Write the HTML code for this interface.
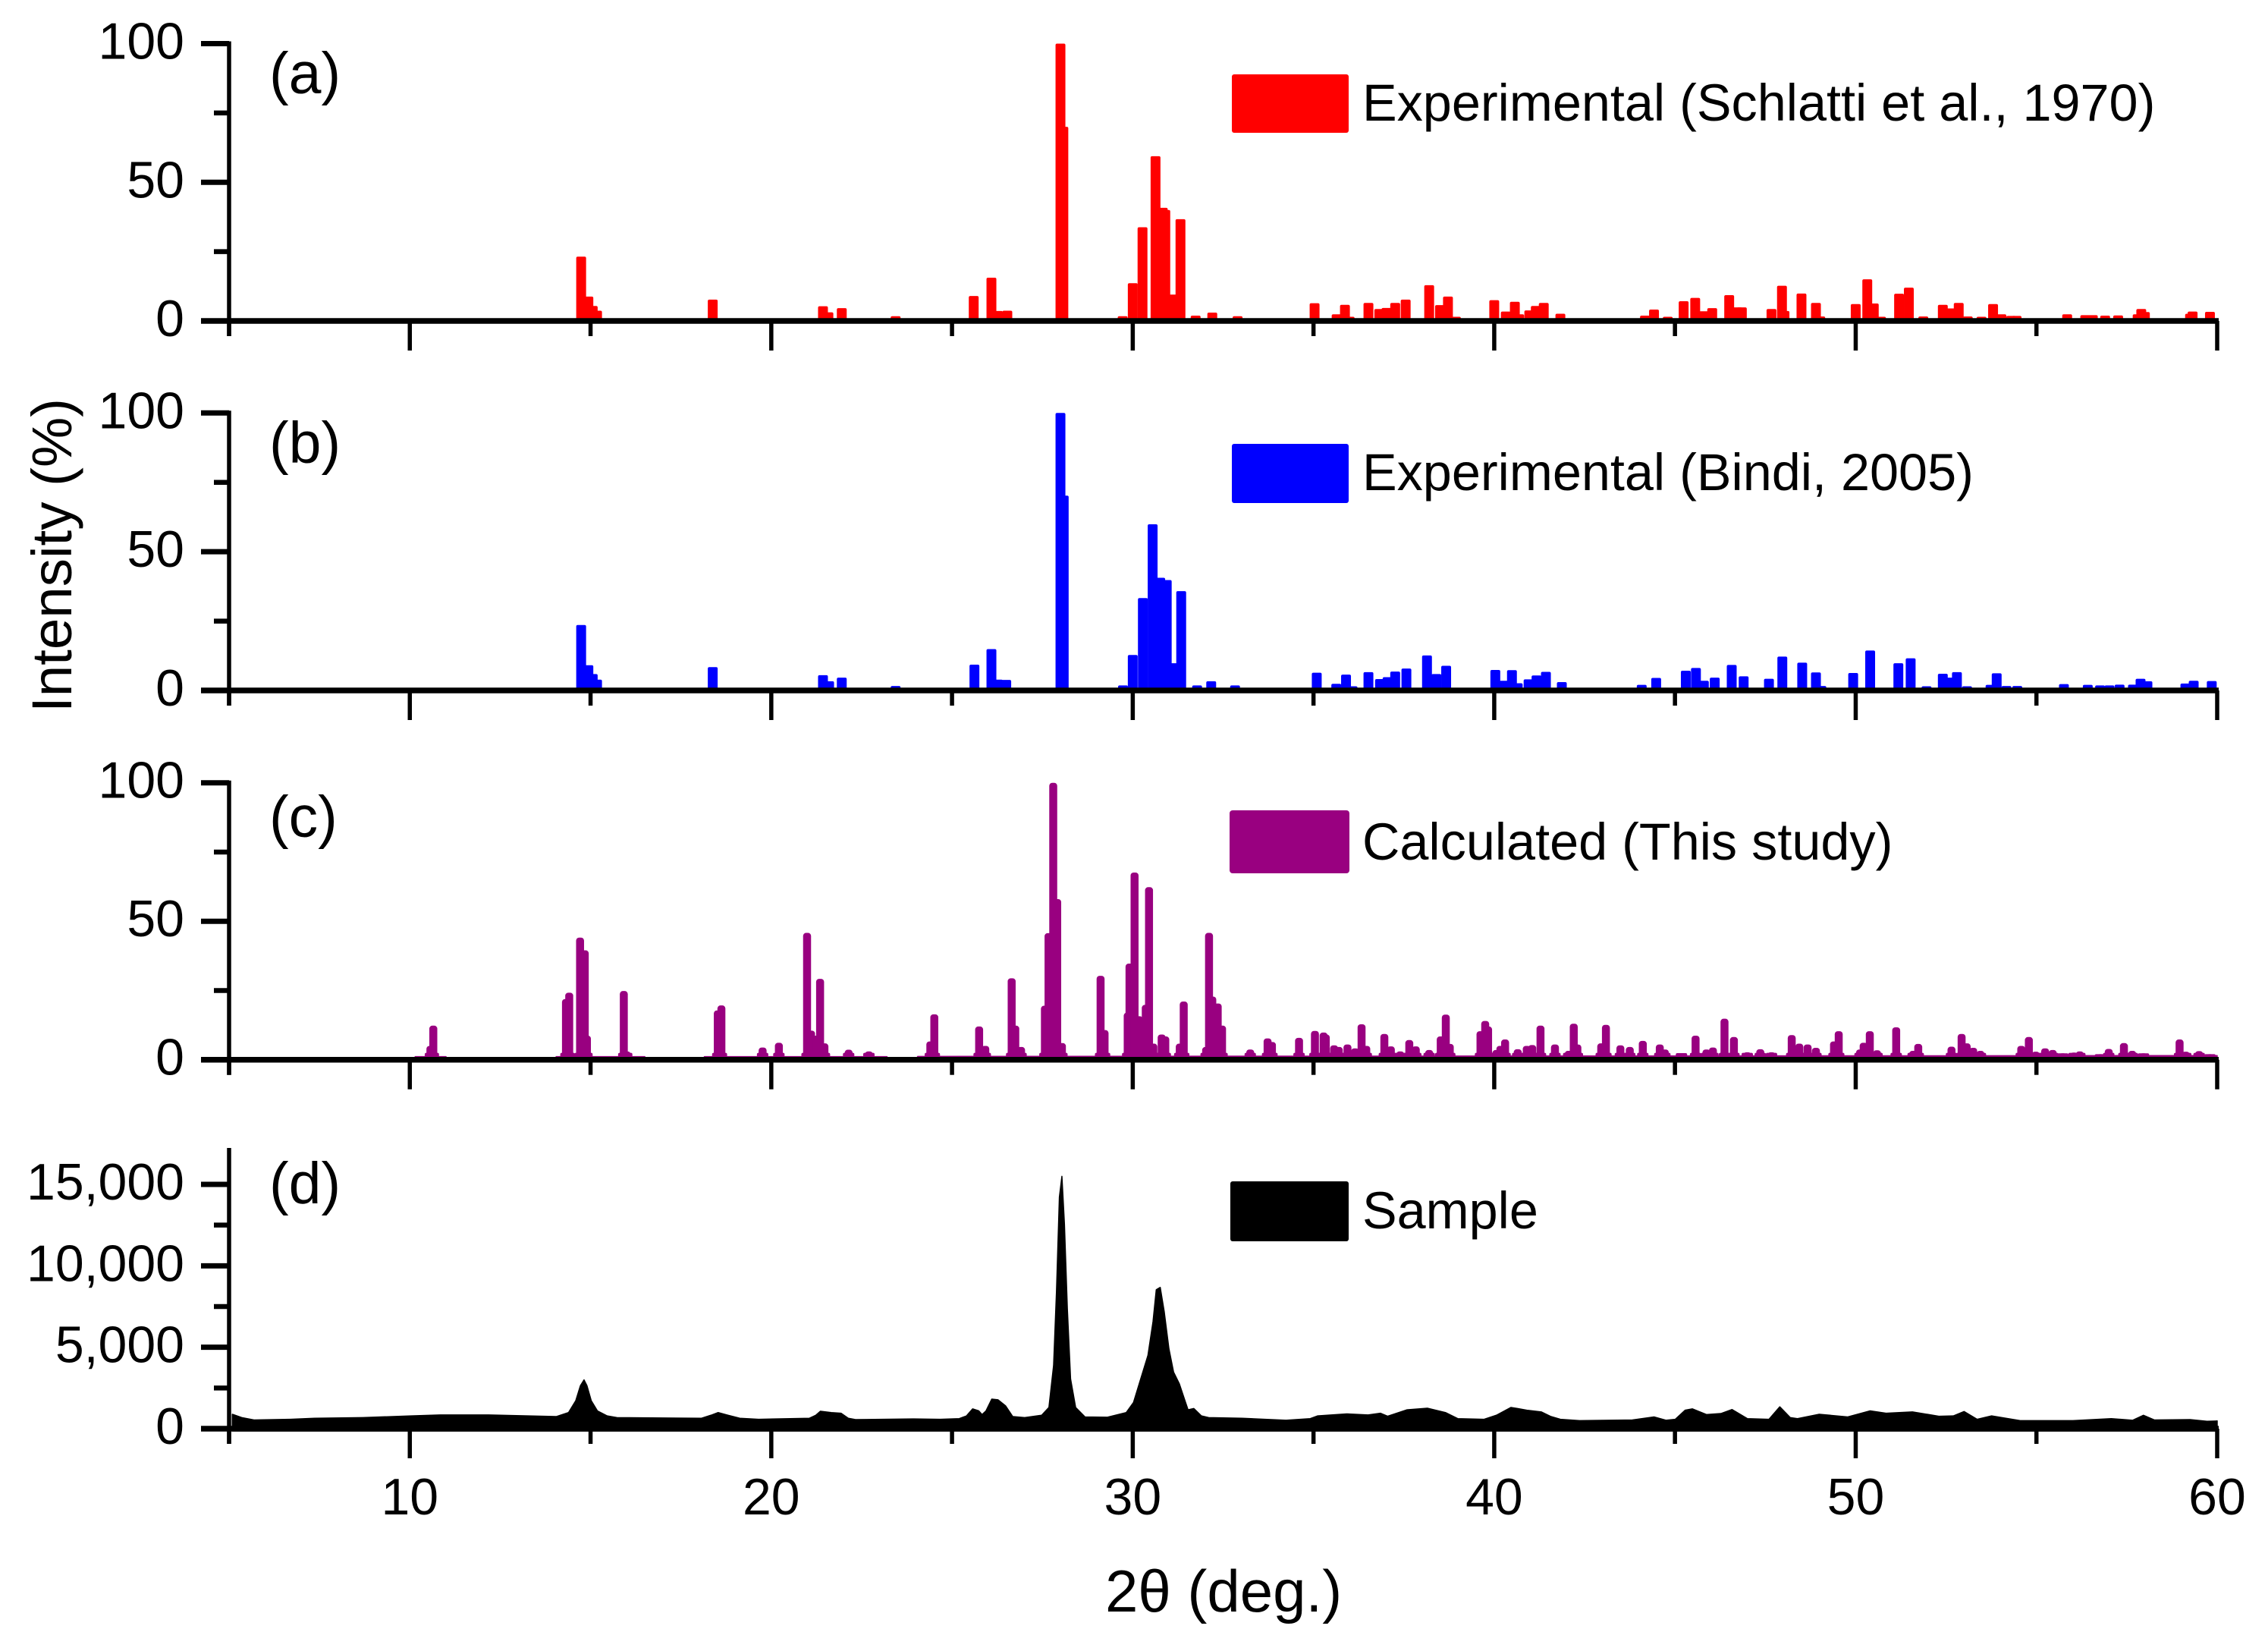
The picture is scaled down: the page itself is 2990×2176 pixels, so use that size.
<!DOCTYPE html>
<html lang="en">
<head>
<meta charset="utf-8">
<title>XRD patterns: experimental, calculated and sample</title>
<style>
html,body{margin:0;padding:0;background:#fff;}
#chart{display:block;width:2990px;height:2176px;font-family:"Liberation Sans",Arial,sans-serif;fill:#000;}
</style>
</head>
<body>
<svg id="chart" xmlns="http://www.w3.org/2000/svg" width="2990" height="2176" viewBox="0 0 2990 2176">
  <rect x="0" y="0" width="2990" height="2176" fill="#fff"/>
  <g id="layer-marks"></g>
  <g id="layer-axes"></g>

  <text x="355" y="123" font-size="77">(a)</text>
  <text x="355" y="610" font-size="77">(b)</text>
  <text x="355" y="1103" font-size="77">(c)</text>
  <text x="355" y="1586" font-size="77">(d)</text>

  <rect x="1624" y="98" width="154" height="77" rx="3" fill="#ff0000"/>
  <text x="1796" y="159" font-size="68.4">Experimental (Schlatti et al., 1970)</text>
  <rect x="1624" y="585" width="154" height="78" rx="3" fill="#0000ff"/>
  <text x="1796" y="646" font-size="68.4">Experimental (Bindi, 2005)</text>
  <rect x="1621" y="1068" width="158" height="83" rx="4" fill="#990080"/>
  <text x="1796" y="1133" font-size="68.4">Calculated (This study)</text>
  <rect x="1622" y="1557" width="156" height="79" rx="3" fill="#000"/>
  <text x="1796" y="1619" font-size="68.4">Sample</text>

  <text transform="translate(94 939) rotate(-90)" font-size="74.5">Intensity (%)</text>
  <text x="1457" y="2124" font-size="78">2θ (deg.)</text>
</svg>

<script>
/* Panel (a): Schlatti et al., 1970 stick pattern */
var schlattiAngles = [14.74,14.94,15.06,15.18,18.38,21.43,21.58,21.95,23.44,25.6,26.09,26.27,26.33,26.53,28,28.08,29.72,30,30.27,30.63,30.83,30.9,31.14,31.32,31.74,32.2,32.9,35.03,35.64,35.87,36,36.52,36.82,37.02,37.26,37.55,38.2,38.5,38.72,38.94,40,40.32,40.57,40.69,40.97,41.15,41.37,41.83,44.17,44.42,44.8,45.24,45.56,45.8,46.03,46.5,46.72,46.85,47.67,47.96,48.03,48.5,48.9,49.02,50,50.32,50.5,50.7,51.2,51.47,51.87,52.41,52.63,52.85,53.1,53.48,53.8,54.03,54.3,54.45,55.85,56.35,56.56,56.9,57.26,57.8,57.9,58,59.25,59.32,59.8];
var schlattiIntensity = [23.2,8.8,5.4,3.7,7.7,5.3,3.1,4.6,1.7,9,15.6,3.6,2.6,3.7,100,70,1.7,13.6,33.8,59.4,40.8,40,9.5,36.7,1.9,3,1.7,6.4,2.4,5.8,1.5,6.5,4.3,4.7,6.5,7.7,12.9,5.7,8.8,1.5,7.5,3.4,6.9,2.4,3.8,5.4,6.5,2.6,1.9,4.1,1.5,7.1,8.3,3.5,4.6,9.3,4.9,4.9,4.3,12.7,3.6,9.9,6.5,1.6,6.1,15,6.3,1.5,9.8,12,1.6,5.8,4.5,6.5,1.6,1.5,6.1,2.4,1.8,1.8,2.4,2.1,2.1,1.9,2,2.4,4.3,3.2,2.6,3.4,3.3];

/* Panel (b): Bindi, 2005 stick pattern */
var bindiAngles = [14.74,14.94,15.06,15.18,18.38,21.43,21.6,21.95,23.44,25.62,26.09,26.27,26.5,28,28.09,29.73,30,30.28,30.55,30.76,30.94,31.14,31.34,31.78,32.17,32.83,35.09,35.63,35.9,36.08,36.52,36.84,37.05,37.26,37.57,38.14,38.4,38.67,40.03,40.27,40.49,40.65,40.95,41.17,41.43,41.87,44.08,44.48,45.3,45.58,45.8,46.1,46.57,46.9,47.6,47.97,48.52,48.9,49.05,49.93,50.4,51.18,51.52,51.96,52.41,52.62,52.8,53.08,53.73,53.9,54.17,54.47,55.76,56.42,56.76,57.02,57.3,57.67,57.88,58.07,59.12,59.35,59.85];
var bindiIntensity = [23.6,9.1,5.9,3.9,8.4,5.5,3.3,4.6,1.6,9.3,14.9,3.9,3.8,100,70.2,1.8,12.8,33.3,59.9,40.6,39.8,9.8,35.8,1.8,3.3,1.8,6.4,2.4,5.7,1.5,6.6,4.1,4.8,6.8,7.9,12.6,5.9,8.9,7.4,3.5,7.3,2.6,4,5.4,6.7,3,2,4.5,7.1,8.1,3.5,4.6,9.2,5.1,4.2,12.2,10,6.5,1.6,6.3,14.4,9.8,11.6,1.5,6,4.6,6.6,1.5,2,6.2,1.6,1.6,2.3,2,1.8,1.8,2.1,2.1,4.2,3.3,2.5,3.5,3.4];

/* Panel (c): calculated pattern peaks */
var calculatedAngles = [10.57,10.65,14.32,14.41,14.71,14.84,14.9,15.92,16,18.52,18.62,19.76,20.21,20.99,21.1,21.25,21.35,21.47,22.14,22.7,24.4,24.51,25.75,25.92,26.65,26.75,26.91,27.57,27.67,27.8,27.91,28.04,29.11,29.22,29.86,29.91,30.05,30.17,30.26,30.36,30.45,30.57,30.8,30.9,31.3,31.41,32.03,32.11,32.2,32.35,32.47,33.25,33.73,33.85,34.6,35.04,35.28,35.34,35.57,35.7,35.94,36.15,36.33,36.46,36.96,37.14,37.4,37.65,37.83,38.2,38.52,38.66,38.77,39.62,39.75,39.83,40.06,40.17,40.3,40.65,40.9,41.05,41.28,41.68,42.06,42.2,42.3,42.96,43.09,43.49,43.75,44.11,44.58,44.72,45.18,45.57,45.87,46.05,46.37,46.63,47,47.36,47.67,48.23,48.44,48.67,48.9,49.4,49.53,50.12,50.22,50.39,50.59,51.12,51.59,51.73,52.65,52.93,53.07,53.25,53.45,54.58,54.79,54.98,55.24,55.45,55.73,56.04,56.2,56.77,57,57.42,57.65,57.96,58.96,59.13,59.5,59.8];
var calculatedIntensity = [5,12.3,21.9,24.2,44.1,39.5,8.7,24.8,3,17.8,19.6,4.4,6.1,45.8,10.5,8.7,29.2,5.9,3.6,3,6.6,16.4,12,5,29.4,12.3,4.6,19.5,45.7,100,58,6,30.3,10.7,17,34.7,67.6,15.7,10.3,19.8,62.3,5.8,9.1,8.4,5.8,21,4.6,45.8,22.8,20.3,12.3,3.7,7.7,6.4,7.9,10.4,9.8,9.1,5.2,4.6,5.5,4.1,12.8,5,9.3,4.8,3,7.1,4.8,3.5,8.4,16.3,5.7,10.3,14,12,3.5,5,7.3,3.8,5,5.3,12.3,5.5,3.2,13,5.5,5.9,12.6,5.2,4.6,6.8,5.5,3.7,2.4,8.7,3.7,4.4,14.8,8.2,2.7,3.8,2.7,8.9,5.8,5.5,4.3,6.6,10.3,3.7,6.1,10.3,3.4,11.7,3.2,5.7,4.7,9.3,5.9,4.3,3.2,5,8.2,2.9,4.1,3.5,2.3,2.6,3,2,3.9,6,3.2,2.3,7.3,2.9,3.1,2];
/* Low continuum beneath the calculated peaks */
var continuumAngles = [10.1,10.15,11,11.05,14,14.05,16.5,16.55,18.1,18.15,19,23.2,23.25,24,24.05,60];
var continuumLevels = [0,1.1,1.1,0,0,1.1,1.1,0,0,1.1,1.1,1.1,0,0,1.2,1.5];

/* Panel (d): measured sample profile */
var sampleAngles = [5.09,5.35,5.69,6.69,7.36,8.7,10.04,10.84,12.18,14.05,14.39,14.59,14.72,14.82,14.9,15.02,15.19,15.46,15.73,18.07,18.33,18.53,18.8,19.13,19.65,21.05,21.23,21.36,21.66,21.93,22.13,22.33,23.93,24.67,25.2,25.4,25.57,25.74,25.83,25.94,26.1,26.27,26.48,26.68,27.01,27.48,27.68,27.81,27.89,27.97,28.04,28.11,28.19,28.28,28.42,28.68,29.29,29.82,30.02,30.22,30.42,30.56,30.65,30.76,30.87,31,31.13,31.29,31.43,31.53,31.69,31.9,32.1,33.03,34.24,34.91,35.11,35.92,36.51,36.85,37.05,37.58,38.15,38.65,38.99,39.72,40.06,40.46,40.64,40.9,41.3,41.57,41.83,42.36,43.82,44.42,44.75,45.01,45.28,45.48,45.87,46.27,46.58,47,47.6,47.9,48.19,48.39,48.99,49.78,50.4,50.84,51.57,52.3,52.7,53,53.36,53.76,54.55,56.01,57.07,57.66,57.96,58.26,59.25,59.72,60];
var sampleCounts = [888,682,537,578,640,682,785,847,847,744,992,1715,2645,2996,2645,1715,1095,785,682,640,826,992,826,640,578,640,826,1074,992,950,640,558,600,578,620,785,1219,1095,868,1095,1818,1777,1405,744,682,826,1302,3884,8429,14214,15495,12560,7396,3058,1302,723,702,992,1611,3058,4504,6570,8532,8677,7190,4917,3471,2748,1818,1157,1240,785,682,640,517,620,785,909,847,950,764,1157,1260,992,620,578,826,1302,1240,1136,1033,744,578,496,537,723,517,578,1136,1219,868,930,1178,620,578,1343,682,620,888,723,1095,950,1033,764,785,1054,578,785,496,496,620,517,826,537,558,455,475];

/* Tick values */
var xMajorTicks = [10,20,30,40,50,60];
var xMinorTicks = [5,15,25,35,45,55];
var xTickLabels = ["10","20","30","40","50","60"];
var percentMajorTicks = [0,50,100];
var percentMinorTicks = [25,75];
var percentTickLabels = ["0","50","100"];
var countMajorTicks = [0,5000,10000,15000];
var countMinorTicks = [2500,7500,12500];
var countTickLabels = ["0","5,000","10,000","15,000"];

var NS = "http://www.w3.org/2000/svg";
var marks = document.getElementById("layer-marks");
var axes = document.getElementById("layer-axes");

function xScale(angle) { return 302 + (angle - 5) * (2923 - 302) / 55; }
function makeYScale(zeroPx, refPx, refValue) {
  return function (v) { return zeroPx - v * (zeroPx - refPx) / refValue; };
}
function make(parent, tag) {
  var el = document.createElementNS(NS, tag);
  parent.appendChild(el);
  return el;
}
function setAttrs(el, pairs) {
  for (var k in pairs) { el.setAttribute(k, pairs[k]); }
}

function drawSticks(panelKey, angles, values, yScale, color, width, radius, footWidth, footLevel) {
  var g = make(marks, "g");
  
  
  g.setAttribute("fill", color);
  for (var i = 0; i < angles.length; i++) {
    var bar = make(g, "rect");
    
    
    setAttrs(bar, {
      x: xScale(angles[i]) - width / 2,
      y: yScale(values[i]),
      width: width,
      height: yScale(0) - yScale(values[i]),
      rx: radius
    });
    if (footWidth) {
      var footTop = Math.min(values[i], footLevel);
      var foot = make(g, "rect");
      
      
      setAttrs(foot, {
        x: xScale(angles[i]) - footWidth / 2,
        y: yScale(footTop),
        width: footWidth,
        height: yScale(0) - yScale(footTop),
        rx: 2
      });
    }
  }
}

function drawArea(name, angles, values, yScale, color, baseOffset) {
  var p = make(marks, "polygon");
  
  
  var base = yScale(0) + baseOffset;
  var pts = [xScale(angles[0]) + "," + base];
  for (var i = 0; i < angles.length; i++) {
    pts.push(xScale(angles[i]) + "," + yScale(values[i]));
  }
  pts.push(xScale(angles[angles.length - 1]) + "," + base);
  setAttrs(p, { points: pts.join(" "), fill: color, stroke: color, "stroke-width": 1.5, "stroke-linejoin": "round" });
}

function drawAxes(panelKey, yScale, topPx, majors, minors, labels, showXLabels) {
  var g = make(axes, "g");
  
  
  g.setAttribute("stroke", "#000");
  g.setAttribute("stroke-linecap", "butt");
  var y0 = yScale(0);

  var yLine = make(g, "line");
  
  
  setAttrs(yLine, { x1: 302, x2: 302, y1: topPx - 3, y2: y0 + 20, "stroke-width": 5.5 });

  var xLine = make(g, "line");
  
  
  setAttrs(xLine, { x1: 265, x2: 2925, y1: y0, y2: y0, "stroke-width": 7.5 });

  majors.forEach(function (v, i) {
    var t = make(g, "line");
    
    
    setAttrs(t, { x1: 265, x2: 302, y1: yScale(v), y2: yScale(v), "stroke-width": 7 });
    var lab = make(g, "text");
    
    
    setAttrs(lab, { x: 243, y: yScale(v) + 20, "font-size": 68, "text-anchor": "end", stroke: "none", fill: "#000" });
    lab.textContent = labels[i];
  });
  minors.forEach(function (v) {
    var t = make(g, "line");
    
    
    setAttrs(t, { x1: 282, x2: 302, y1: yScale(v), y2: yScale(v), "stroke-width": 6.5 });
  });
  xMajorTicks.forEach(function (v, i) {
    var t = make(g, "line");
    
    
    setAttrs(t, { x1: xScale(v), x2: xScale(v), y1: y0, y2: y0 + 39, "stroke-width": 5.5 });
    if (showXLabels) {
      var lab = make(g, "text");
      
      
      setAttrs(lab, { x: xScale(v), y: y0 + 113, "font-size": 68, "text-anchor": "middle", stroke: "none", fill: "#000" });
      lab.textContent = xTickLabels[i];
    }
  });
  xMinorTicks.forEach(function (v) {
    var t = make(g, "line");
    
    
    setAttrs(t, { x1: xScale(v), x2: xScale(v), y1: y0, y2: y0 + 20, "stroke-width": 5.5 });
  });
}

var yA = makeYScale(423, 57.5, 100);
var yB = makeYScale(910, 544.3, 100);
var yC = makeYScale(1396.7, 1031.7, 100);
var yD = makeYScale(1883, 1561, 15000);

drawSticks("schlatti", schlattiAngles, schlattiIntensity, yA, "#ff0000", 13, 2, 0, 0);
drawSticks("bindi", bindiAngles, bindiIntensity, yB, "#0000ff", 13, 2, 0, 0);
drawArea("calculated-continuum", continuumAngles, continuumLevels, yC, "#990080", 0);
drawSticks("calculated", calculatedAngles, calculatedIntensity, yC, "#990080", 10.5, 4, 15, 2.5);
drawArea("sample-profile", sampleAngles, sampleCounts, yD, "#000", 3);

drawAxes("a", yA, 57.5, percentMajorTicks, percentMinorTicks, percentTickLabels, false);
drawAxes("b", yB, 544.3, percentMajorTicks, percentMinorTicks, percentTickLabels, false);
drawAxes("c", yC, 1031.7, percentMajorTicks, percentMinorTicks, percentTickLabels, false);
drawAxes("d", yD, 1516, countMajorTicks, countMinorTicks, countTickLabels, true);
</script>
</body>
</html>
